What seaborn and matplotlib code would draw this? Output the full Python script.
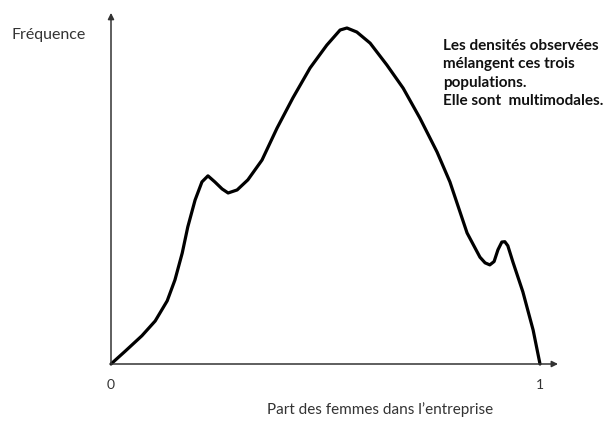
"""Schematic multimodal density: share of women in firms."""

import matplotlib
matplotlib.use("Agg")
import matplotlib.pyplot as plt
import seaborn as sns
import pandas as pd

# points (x = share of women, y = relative frequency)
share = [0.0, 0.033, 0.072, 0.103, 0.131, 0.149, 0.166, 0.179, 0.196, 0.212,
         0.226, 0.242, 0.259, 0.273, 0.294, 0.319, 0.352, 0.387, 0.424, 0.464,
         0.503, 0.534, 0.550, 0.573, 0.604, 0.643, 0.681, 0.720, 0.760, 0.790,
         0.830, 0.860, 0.872, 0.883, 0.893, 0.902, 0.911, 0.918, 0.925, 0.937,
         0.960, 0.984, 1.0]
freq = [0.0, 0.038, 0.084, 0.128, 0.188, 0.250, 0.330, 0.408, 0.488, 0.542,
        0.560, 0.542, 0.521, 0.509, 0.518, 0.548, 0.607, 0.702, 0.792, 0.881,
        0.949, 0.994, 1.000, 0.988, 0.955, 0.890, 0.821, 0.732, 0.631, 0.542,
        0.390, 0.318, 0.301, 0.295, 0.305, 0.340, 0.363, 0.364, 0.352, 0.303,
        0.215, 0.101, 0.0]
tick_pos = [0, 1]
tick_labels = ["0", "1"]
x_label = "Part des femmes dans l\u2019entreprise"
y_label = "Fréquence"
note = "Les densités observées\nmélangent ces trois\npopulations.\nElle sont  multimodales."

sns.set_theme(style="white")
plt.rcParams["font.family"] = ["Lato", "DejaVu Sans"]

df = pd.DataFrame({"share": share, "freq": freq})

fig = plt.figure(figsize=(6.13, 4.21), dpi=100)
ax = fig.add_axes([111 / 613, 57 / 421, 429 / 613, 336 / 421])
sns.lineplot(data=df, x="share", y="freq", ax=ax, color="black", lw=2.3,
             sort=False, clip_on=False, solid_joinstyle="round",
             solid_capstyle="round")
ax.set_xlim(0, 1)
ax.set_ylim(0, 1)
for s in ax.spines.values():
    s.set_visible(False)
ax.set_xticks([])
ax.set_yticks([])
ax.set_xlabel("")
ax.set_ylabel("")

# axes drawn as arrows
arrow = dict(arrowstyle="-|>", color="#333333", lw=1.1, mutation_scale=9,
             shrinkA=0, shrinkB=0)
ax.annotate("", xy=(1.042, 0), xytext=(0, 0), arrowprops=arrow,
            annotation_clip=False)
ax.annotate("", xy=(0, 1.045), xytext=(0, 0), arrowprops=arrow,
            annotation_clip=False)

for p, lab in zip(tick_pos, tick_labels):
    ax.text(p, -0.063, lab, ha="center", va="center", fontsize=10,
            color="#333333", clip_on=False)
ax.text(0.628, -0.137, x_label, ha="center", va="center", fontsize=11,
        color="#333333", clip_on=False)
fig.text(12 / 613, 1 - 35 / 421, y_label, ha="left", va="center",
         fontsize=11.5, color="#333333")
fig.text(443 / 613, 1 - 39 / 421, note, ha="left", va="top", fontsize=11,
         fontweight="bold", color="#111111", linespacing=1.4)

fig.savefig("out.png", dpi=100)
plt.close(fig)
